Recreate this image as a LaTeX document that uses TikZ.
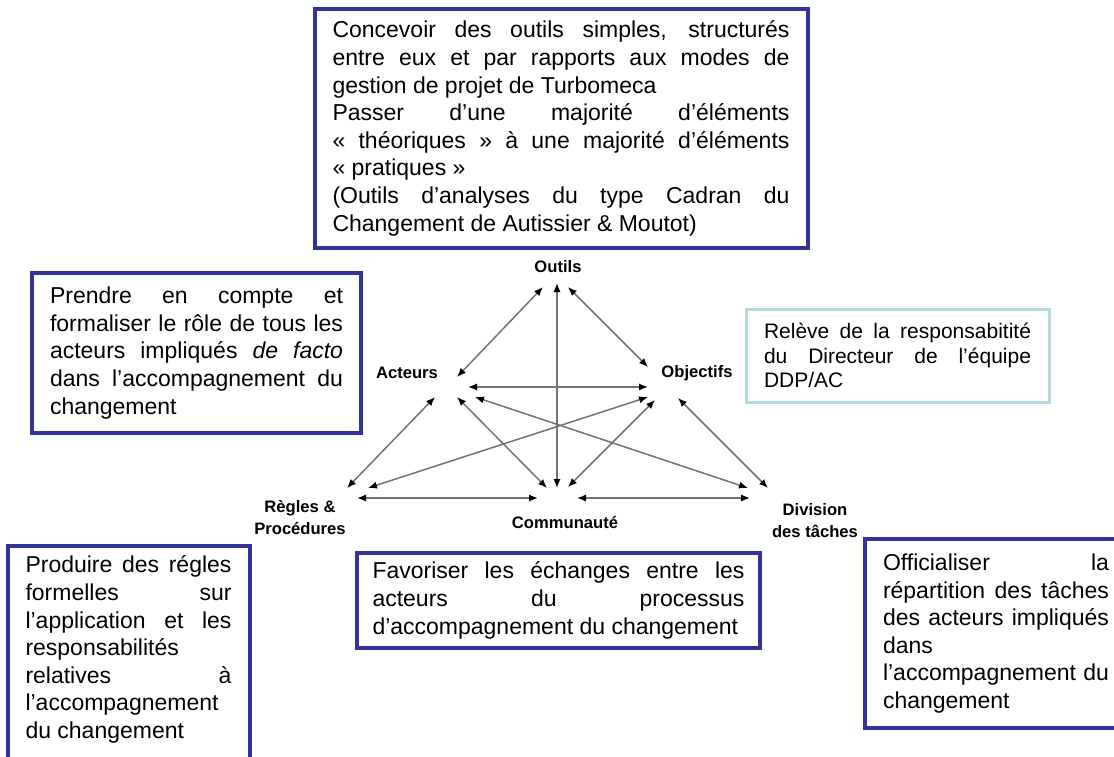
\documentclass[tikz,border=0pt]{standalone}
\usepackage{fontspec}
\setmainfont{Liberation Sans}
\usetikzlibrary{arrows.meta}
\definecolor{boxblue}{RGB}{51,51,153}
\definecolor{boxpale}{RGB}{180,218,222}

\begin{document}
\begin{tikzpicture}[x=0.5pt,y=-0.5pt,
  bluebox/.style={draw=boxblue, line width=2pt, fill=white, align=justify,
    inner xsep=9pt, font=\fontsize{11.5}{13.8}\selectfont},
  lbl/.style={font=\fontsize{8.3}{11}\selectfont\bfseries, align=center, inner sep=1pt},
  link/.style={draw=black!55, line width=0.75pt,
    {Latex[length=4.5pt,width=3.6pt,black]}-{Latex[length=4.5pt,width=3.6pt,black]}}]
\useasboundingbox (0,0) rectangle (1114,756);
\clip (0,0) rectangle (1114,756);

% text boxes
\node[bluebox, text width=228.5pt, minimum height=119.5pt] (outilsbox) at (561,128.5)
  {Concevoir des outils simples, structurés\linebreak
   entre eux et par rapports aux modes de\linebreak
   gestion de projet de Turbomeca\\
   Passer d’une majorité d’éléments\linebreak
   «~théoriques~» à une majorité d’éléments\linebreak
   «~pratiques~»\\
   (Outils d’analyses du type Cadran du\linebreak
   Changement de Autissier \& Moutot)};
\node[bluebox, text width=146.5pt, minimum height=80pt] (acteursbox) at (196.5,353)
  {Prendre en compte et\linebreak
   formaliser le rôle de tous les\linebreak
   acteurs impliqués \textit{de facto}\linebreak
   dans l’accompagnement du\linebreak
   changement};
\node[bluebox, draw=boxpale, line width=1.5pt, text width=133.5pt, minimum height=46.5pt,
  font=\fontsize{10.5}{12.25}\selectfont] (objectifsbox) at (897.5,355.5)
  {Relève de la responsabitité\linebreak
   du Directeur de l’équipe\linebreak
   DDP/AC};
\node[bluebox, text width=103pt, anchor=north, inner ysep=5pt] (reglesbox) at (128.5,544)
  {Produire des régles\linebreak
   formelles sur\linebreak
   l’application et les\linebreak
   responsabilités\linebreak
   relatives à\linebreak
   l’accompagnement\linebreak
   du changement\\\rule{0pt}{12pt}};
\node[bluebox, text width=186pt, inner xsep=7.75pt, minimum height=47.5pt] (communautebox) at (558.5,600.5)
  {Favoriser les échanges entre les\linebreak
   acteurs du processus\linebreak
   d’accompagnement du changement};
\node[bluebox, text width=113pt, minimum height=94.5pt] (divisionbox) at (996,633.5)
  {Officialiser la\linebreak
   répartition des tâches\linebreak
   des acteurs impliqués\linebreak
   dans\linebreak
   l’accompagnement du\linebreak
   changement};

% poles of the triangle
\node[lbl] (outils) at (558,267) {Outils};
\node[lbl] (acteurs) at (407,373) {Acteurs};
\node[lbl] (objectifs) at (697,373) {Objectifs};
\node[lbl] (regles) at (300,517) {Règles \&\\Procédures};
\node[lbl] (communaute) at (565,522) {Communauté};
\node[lbl] (division) at (815,521) {Division\\des tâches};

% double arrows
\draw[link] ([shift={(-15,20)}]outils.center) -- ([shift={(50,4)}]acteurs.center);
\draw[link] ([shift={(-1,16)}]outils.center) -- ([shift={(-8,-34)}]communaute.center);
\draw[link] ([shift={(10,20)}]outils.center) -- ([shift={(-49,-6)}]objectifs.center);
\draw[link] ([shift={(61,14)}]acteurs.center) -- ([shift={(-49,14)}]objectifs.center);
\draw[link] ([shift={(28,24)}]acteurs.center) -- ([shift={(47,-29)}]regles.center);
\draw[link] ([shift={(50,24)}]acteurs.center) -- ([shift={(-18,-34)}]communaute.center);
\draw[link] ([shift={(68,24)}]acteurs.center) -- ([shift={(-67,-33)}]division.center);
\draw[link] ([shift={(-49,24)}]objectifs.center) -- ([shift={(68,-29)}]regles.center);
\draw[link] ([shift={(-42,27)}]objectifs.center) -- ([shift={(3,-35)}]communaute.center);
\draw[link] ([shift={(-19,25)}]objectifs.center) -- ([shift={(-47,-33)}]division.center);
\draw[link] ([shift={(57,-19)}]regles.center) -- ([shift={(-27,-24)}]communaute.center);
\draw[link] ([shift={(12,-24)}]communaute.center) -- ([shift={(-65,-23)}]division.center);
\end{tikzpicture}
\end{document}
